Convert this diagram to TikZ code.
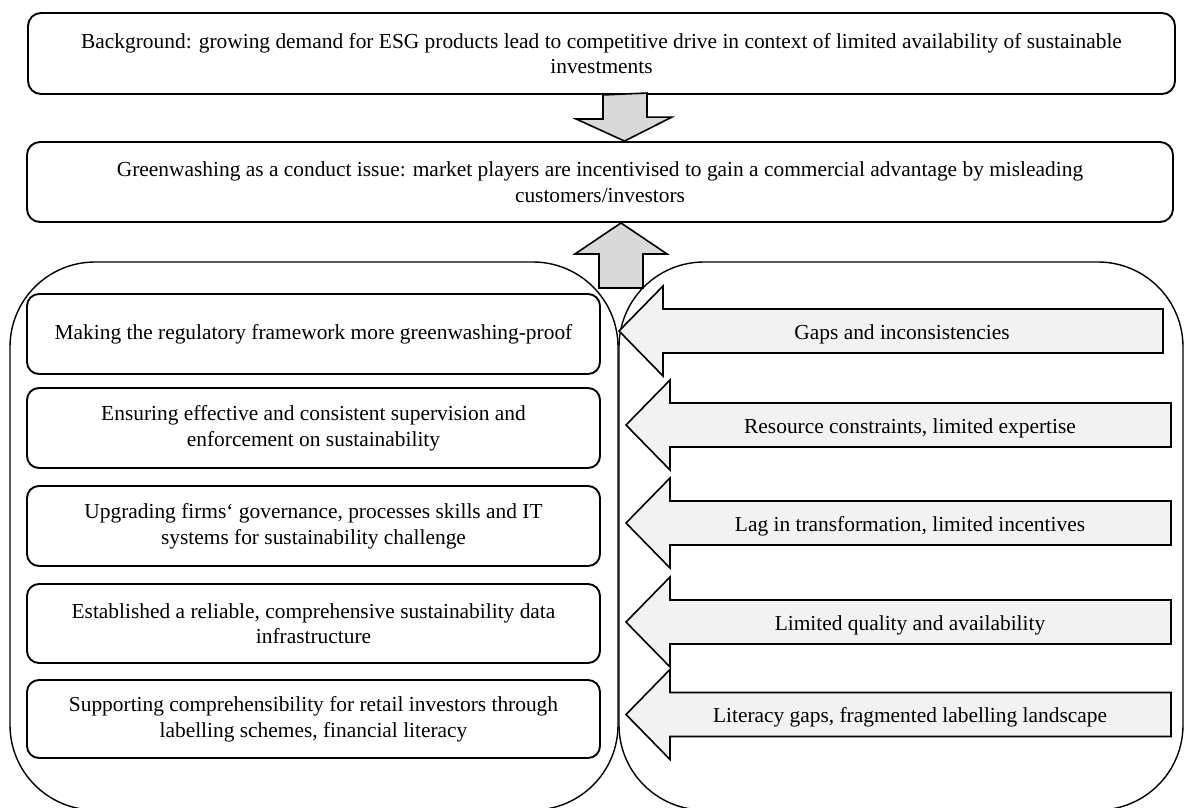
\documentclass[tikz,border=0pt]{standalone}
\usepackage{fontspec}
\setmainfont{Liberation Serif}
\begin{document}
\begin{tikzpicture}[x=1pt,y=-1pt,
  txt/.style={font=\fontsize{21.4}{25.6}\selectfont, align=center, inner sep=0pt},
  topbox/.style={draw, line width=1.9pt, rounded corners=13pt, txt},
  lbox/.style={draw, line width=1.9pt, rounded corners=12pt, txt, minimum width=573pt},
  container/.style={draw, line width=1.4pt, rounded corners=85pt, inner sep=0pt},
  bigarrow/.style={draw, line width=1.6pt, fill=black!15, line join=miter},
  sidearrow/.style={draw, line width=1.6pt, fill=black!5, line join=miter},
]
\useasboundingbox (0,0) rectangle (1186,808);

% frames
\node[container, minimum width=608pt, minimum height=548pt] (lframe) at (314,536) {};
\node[container, minimum width=564pt, minimum height=548pt] (rframe) at (901,536) {};

% top boxes
\node[topbox, minimum width=1147pt, minimum height=81pt] (bg) at (601.5,53.5)
  {Background: growing demand for ESG products lead to competitive drive in context of limited availability of sustainable\\investments};
\node[topbox, minimum width=1146pt, minimum height=80pt] (gw) at (600,182)
  {Greenwashing as a conduct issue: market players are incentivised to gain a commercial advantage by misleading\\customers/investors};

% down arrow bg -> gw
\coordinate (dtop) at (bg.south -| 624.5,0);
\coordinate (dtip) at (gw.north -| 624.5,0);
\draw[bigarrow] (dtop) ++(-21.5,0) -- ++(0,24) -- ++(-27,0) -- (dtip) -- ++(47.5,-24) -- ++(-25,0) -- ++(0,-24) -- cycle;

% left boxes
\node[lbox, minimum height=80pt] (l1) at (313.5,334) {Making the regulatory framework more greenwashing-proof};
\node[lbox, minimum height=80pt] (l2) at (313.5,428) {Ensuring effective and consistent supervision and\\enforcement on sustainability};
\node[lbox, minimum height=80pt] (l3) at (313.5,526) {Upgrading firms\symbol{96} governance, processes skills and IT\\systems for sustainability challenge};
\node[lbox, minimum height=79pt] (l4) at (313.5,623.5) {Established a reliable, comprehensive sustainability data\\infrastructure};
\node[lbox, minimum height=78pt] (l5) at (313.5,719) {Supporting comprehensibility for retail investors through\\labelling schemes, financial literacy};

% up arrow frames -> gw
\coordinate (utip) at (gw.south -| 621,0);
\draw[bigarrow] (utip) -- ++(46,31) -- ++(-24,0) -- ++(0,34) -- ++(-44,0) -- ++(0,-34) -- ++(-24,0) -- cycle;

% side arrows
\foreach \c/\tx/\e/\tc/\n/\t in {
  331/619/1163/902/r1/{Gaps and inconsistencies},
  425/626/1171/910/r2/{Resource constraints, limited expertise},
  523/626/1171/910/r3/{Lag in transformation, limited incentives},
  622/626/1171/910/r4/{Limited quality and availability},
  714.5/626/1171/910/r5/{Literacy gaps, fragmented labelling landscape}} {
  \draw[sidearrow] (\tx,\c) -- (\tx+44,\c-45) -- (\tx+44,\c-22) -- (\e,\c-22) -- (\e,\c+22) -- (\tx+44,\c+22) -- (\tx+44,\c+45) -- cycle;
  \node[txt] (\n) at (\tc,\c+3) {\t};
}
\end{tikzpicture}
\end{document}
